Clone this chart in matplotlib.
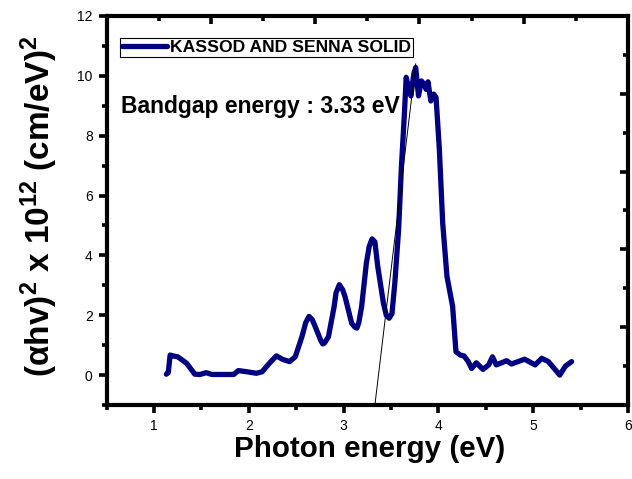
import numpy as np
import matplotlib
matplotlib.use('Agg')
import matplotlib.pyplot as plt
from matplotlib.ticker import MultipleLocator

plt.rcParams['font.family'] = ['Liberation Sans', 'DejaVu Sans']
plt.rcParams['mathtext.fontset'] = 'custom'
plt.rcParams['mathtext.rm'] = 'Liberation Sans:bold'
plt.rcParams['mathtext.it'] = 'Liberation Sans:bold'
plt.rcParams['mathtext.bf'] = 'Liberation Sans:bold'

# Tauc plot data: photon energy (eV) vs (alpha h nu)^2 in units of 1e12
energy = [1.13, 1.15, 1.17, 1.20, 1.25, 1.29, 1.345, 1.43, 1.485, 1.55,
          1.61, 1.84, 1.89, 1.98, 2.08, 2.14, 2.21, 2.29, 2.36, 2.43,
          2.49, 2.56, 2.60, 2.635, 2.67, 2.70, 2.76, 2.78, 2.80, 2.84,
          2.90, 2.92, 2.955, 2.99, 3.015, 3.085, 3.12, 3.14, 3.16, 3.19,
          3.24, 3.27, 3.30, 3.33, 3.36, 3.42, 3.45, 3.48, 3.51, 3.54,
          3.58, 3.61, 3.64, 3.66, 3.68, 3.71, 3.74, 3.76, 3.79, 3.82,
          3.85, 3.87, 3.89, 3.92, 3.95, 3.975, 4.01, 4.045, 4.09, 4.15,
          4.185, 4.23, 4.27, 4.315, 4.35, 4.40, 4.47, 4.53, 4.57, 4.61,
          4.72, 4.77, 4.91, 5.02, 5.09, 5.16, 5.28, 5.34, 5.405]
absorb = [0.03, 0.08, 0.67, 0.64, 0.61, 0.52, 0.39, 0.03, 0.02, 0.08,
          0.02, 0.02, 0.15, 0.11, 0.06, 0.11, 0.37, 0.64, 0.52, 0.45,
          0.61, 1.28, 1.75, 1.96, 1.85, 1.62, 1.15, 1.04, 1.08, 1.28,
          2.29, 2.75, 3.02, 2.85, 2.62, 1.73, 1.60, 1.57, 1.75, 2.29,
          3.74, 4.30, 4.55, 4.45, 3.63, 2.40, 2.00, 1.90, 2.05, 3.07,
          4.86, 6.98, 8.66, 9.95, 9.67, 9.33, 10.06, 10.28, 9.33, 9.83,
          9.72, 9.55, 9.80, 9.16, 9.39, 9.28, 7.54, 5.09, 3.30, 2.29,
          0.78, 0.67, 0.64, 0.45, 0.22, 0.41, 0.19, 0.34, 0.61, 0.34,
          0.48, 0.37, 0.53, 0.34, 0.56, 0.45, 0.00, 0.30, 0.45]

# linear fit used to extrapolate the band gap
tangent_x = [3.33, 3.76]
tangent_y = [-1.0, 10.4]

fig = plt.figure(figsize=(6.32, 4.79), dpi=100)
ax = fig.add_axes([0.1687, 0.1545, 0.8250, 0.8121])

ax.plot(energy, absorb, color='#000080', lw=3.8, solid_joinstyle='round',
        solid_capstyle='round', label='KASSOD AND SENNA SOLID', zorder=3)
ax.plot(tangent_x, tangent_y, color='black', lw=0.7, zorder=4)

ax.set_xlim(0.5, 6)
ax.set_ylim(-1, 12)
ax.xaxis.set_major_locator(MultipleLocator(1))
ax.xaxis.set_minor_locator(MultipleLocator(0.5))
ax.yaxis.set_major_locator(MultipleLocator(2))
ax.yaxis.set_minor_locator(MultipleLocator(1))
ax.tick_params(which='both', direction='out', width=2.6, labelsize=10,
               top=False, right=False, pad=4)
ax.tick_params(which='major', length=6)
ax.tick_params(which='minor', length=3.5)
for s in ax.spines.values():
    s.set_linewidth(3)

# top and right axes carry their own independent scales
top = ax.twiny()
top.set_xlim(0, 5)
top.xaxis.set_major_locator(MultipleLocator(1))
top.xaxis.set_minor_locator(MultipleLocator(0.5))
top.tick_params(which='both', direction='in', width=2.6, labeltop=False)
top.tick_params(which='major', length=6)
top.tick_params(which='minor', length=3.5)
right = ax.twinx()
right.set_ylim(0, 5)
right.yaxis.set_major_locator(MultipleLocator(1))
right.yaxis.set_minor_locator(MultipleLocator(0.5))
right.tick_params(which='both', direction='in', width=2.6, labelright=False)
right.tick_params(which='major', length=6)
right.tick_params(which='minor', length=3.5)
for a in (top, right):
    for s in a.spines.values():
        s.set_visible(False)

ax.set_xlabel('Photon energy (eV)', fontsize=21.3, fontweight='bold')
ax.xaxis.set_label_coords(0.504, -0.078)
ax.set_ylabel(r'(αhv)$^2$ x 10$^{12}$ (cm/eV)$^2$', fontsize=24,
              fontweight='bold')
ax.yaxis.set_label_coords(-0.09, 0.51)

ax.text(0.65, 8.96, 'Bandgap energy : 3.33 eV', fontsize=16.5, fontweight='bold',
        va='center', ha='left', zorder=5)

leg = ax.legend(loc='upper left', bbox_to_anchor=(0.025, 0.944), borderaxespad=0,
                fancybox=False, edgecolor='black', framealpha=1,
                prop={'weight': 'bold', 'size': 12.6}, handlelength=2.6,
                handletextpad=0.15, borderpad=0.12)
leg.get_frame().set_linewidth(0.8)

fig.savefig('out.png', dpi=100)
